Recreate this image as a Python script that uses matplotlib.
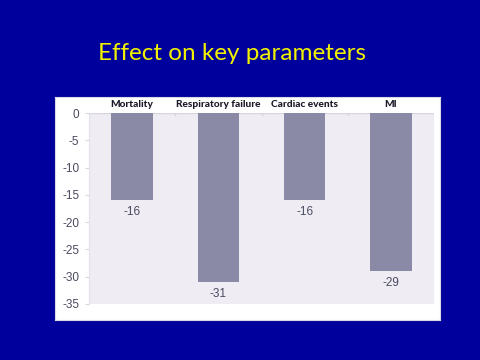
import matplotlib
matplotlib.use("Agg")
import matplotlib.pyplot as plt

categories = ["Mortality", "Respiratory failure", "Cardiac events", "MI"]
values = [-16, -31, -16, -29]
yticks = [0, -5, -10, -15, -20, -25, -30, -35]

fig = plt.figure(figsize=(4.8, 3.6), dpi=100)
fig.patch.set_facecolor("#00009c")

# white slide panel behind the chart
panel = fig.add_axes([55 / 480, 40 / 360, 385 / 480, 223 / 360])
panel.set_facecolor("white")
panel.set_xticks([])
panel.set_yticks([])
for s in panel.spines.values():
    s.set_color("#d8d8e0")
    s.set_linewidth(0.8)

fig.text(232 / 480, 1 - 53 / 360, "Effect on key parameters", color="#f2f200",
         fontsize=17.5, family="Lato", ha="center", va="center")

ax = fig.add_axes([89 / 480, 56 / 360, 345 / 480, 191 / 360])
ax.set_facecolor("#efedf3")
x = range(len(categories))
ax.bar(x, values, width=0.48, color="#8a89a6", zorder=2)

for i, v in enumerate(values):
    ax.text(i, v - 1.0, str(v), ha="center", va="top", fontsize=8.5,
            color="#4a4a60", family="Liberation Sans")

for i, c in enumerate(categories):
    ax.text(i, 0.7, c, ha="center", va="bottom", fontsize=7.3,
            fontweight="black", color="#1a1a2a", family="Lato")

ax.set_xlim(-0.5, len(categories) - 0.5)
ax.set_ylim(-35, 0)
ax.set_yticks(yticks)
ax.set_yticklabels([str(t) for t in yticks], family="Liberation Sans",
                   fontsize=8.5, color="#4a4a60")
ax.tick_params(axis="y", length=3, color="#d8d8e0", pad=4)
ax.set_xticks([])
ax.axhline(0, color="#d6d6de", linewidth=1, zorder=1)
for b in [-0.5, 0.5, 1.5, 2.5, 3.5]:
    ax.plot([b, b], [0, -0.4], color="#d6d6de", linewidth=1, zorder=1)

for s in ax.spines.values():
    s.set_visible(False)
ax.spines["left"].set_visible(True)
ax.spines["left"].set_color("#e2e2ea")

fig.savefig("out.png", dpi=100, facecolor=fig.get_facecolor())
